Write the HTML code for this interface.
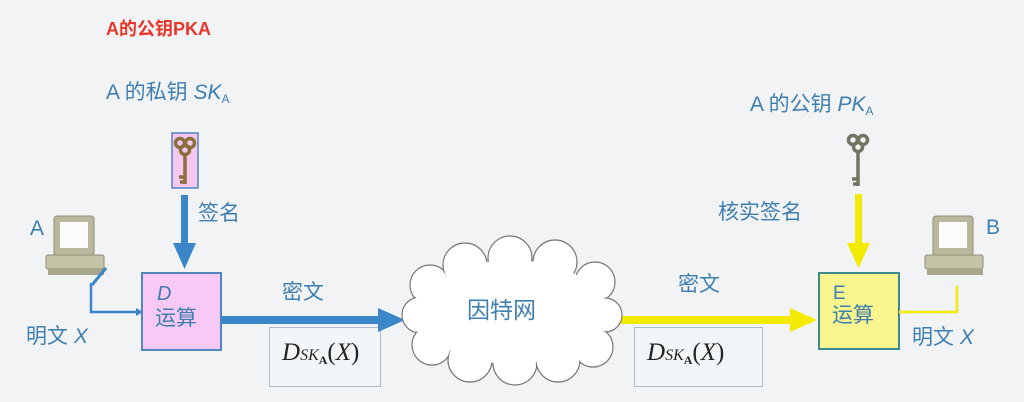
<!DOCTYPE html>
<html><head><meta charset="utf-8"><style>
body{margin:0;width:1024px;height:402px;background:#f2f3f5;overflow:hidden;position:relative;font-family:"Liberation Sans","Noto Sans CJK SC",sans-serif;}
.t{position:absolute;color:#3f7fb0;font-size:21px;white-space:nowrap;line-height:1;}
.i{font-style:italic;}
sub{font-size:12px;vertical-align:-4px;}
.box{position:absolute;border:1.5px solid #a9bccc;background:#f3f6f9;}
.m{font-family:"Liberation Serif",serif;font-style:italic;color:#222;font-size:25px;position:absolute;white-space:nowrap;}
</style></head><body>
<div class="t" style="left:106px;top:20px;color:#e8362b;font-weight:bold;font-size:18px">A的公钥PKA</div>
<div class="t" style="left:106px;top:82px">A 的私钥 <span class="i">SK</span><sub>A</sub></div>
<div class="t" style="left:750px;top:94px">A 的公钥 <span class="i">PK</span><sub>A</sub></div>
<div class="t" style="left:198px;top:203px">签名</div>
<div class="t" style="left:718px;top:202px">核实签名</div>
<div class="t" style="left:30px;top:218px">A</div>
<div class="t" style="left:986px;top:217px">B</div>
<div class="t" style="left:282px;top:282px">密文</div>
<div class="t" style="left:678px;top:274px">密文</div>
<div class="t" style="left:26px;top:326px">明文 <span class="i">X</span></div>
<div class="t" style="left:912px;top:327px">明文 <span class="i">X</span></div>
<div class="box" style="left:269px;top:327px;width:110px;height:58px"></div>
<div class="box" style="left:634px;top:327px;width:127px;height:58px"></div>
<div class="m" style="left:282px;top:339px">D<span style="font-size:16px">SK<sub style="font-style:normal;font-weight:bold;font-size:12px">A</sub></span><span style="font-style:normal">(</span>X<span style="font-style:normal">)</span></div>
<div class="m" style="left:647px;top:339px">D<span style="font-size:16px">SK<sub style="font-style:normal;font-weight:bold;font-size:12px">A</sub></span><span style="font-style:normal">(</span>X<span style="font-style:normal">)</span></div>
<svg width="1024" height="402" style="position:absolute;left:0;top:0">
<rect x="172" y="133" width="26" height="55" fill="#f6c8f0" stroke="#4f86c0" stroke-width="1.5"/>
<g fill="none" stroke="#8a6f3e" stroke-width="3.5"><circle cx="180" cy="143" r="4.5"/><circle cx="190" cy="143" r="4.5"/><circle cx="185" cy="150" r="4.5"/><path d="M185 154 V184 M185 177 h-6 M185 182 h-5"/></g>
<g fill="none" stroke="#6f7560" stroke-width="3.5"><circle cx="853" cy="140" r="4.5"/><circle cx="863" cy="140" r="4.5"/><circle cx="858" cy="147" r="4.5"/><path d="M858 151 V186 M858 179 h-6 M858 184 h-5"/></g>
<rect x="181" y="195" width="7" height="50" fill="#3b86c8"/>
<polygon points="173,243 196,243 184.5,269" fill="#3b86c8"/>
<rect x="855" y="194" width="7" height="52" fill="#f2ea00"/>
<polygon points="847,243 870,243 858.5,268" fill="#f2ea00"/>
<path d="M91 283 V312 H138" fill="none" stroke="#3b86c8" stroke-width="2.5"/>
<polygon points="136,308 143,312 136,316" fill="#3b86c8"/>
<rect x="142" y="273" width="79" height="77" fill="#f9c9f6" stroke="#4f86c0" stroke-width="2"/>
<text x="157" y="300" font-family="Liberation Sans" font-style="italic" font-size="20" fill="#3f7fb0">D</text>
<text x="155" y="325" font-family="Noto Sans CJK SC" font-size="21" fill="#3f7fb0">运算</text>
<rect x="221" y="316" width="160" height="8" fill="#3b86c8"/>
<polygon points="378,308 405,320 378,332" fill="#3b86c8"/>
<rect x="819" y="273" width="80" height="76" fill="#f8f58e" stroke="#3e8a8a" stroke-width="2"/>
<text x="833" y="299" font-family="Liberation Sans" font-size="19" fill="#3f7fb0">E</text>
<text x="832" y="322" font-family="Noto Sans CJK SC" font-size="21" fill="#3f7fb0">运算</text>
<rect x="614" y="316" width="180" height="8" fill="#f2ea00"/>
<polygon points="790,308 817,320 790,332" fill="#f2ea00"/>
<path d="M899 312 H957 V286" fill="none" stroke="#f2ea00" stroke-width="2.5"/>
<g>
<rect x="54" y="216" width="40" height="40" rx="3" fill="#b9b89c" stroke="#8f8e74"/>
<rect x="60" y="222" width="28" height="26" fill="#fbfbfb"/>
<rect x="46" y="255" width="58" height="14" rx="2" fill="#c5c4a8" stroke="#8f8e74"/>
<rect x="48" y="269" width="56" height="6" fill="#a8a78c"/>
<path d="M92 285 L106 268" stroke="#3b86c8" stroke-width="3"/>
</g>
<g>
<rect x="933" y="216" width="40" height="40" rx="3" fill="#b9b89c" stroke="#8f8e74"/>
<rect x="939" y="222" width="28" height="26" fill="#fbfbfb"/>
<rect x="925" y="255" width="58" height="14" rx="2" fill="#c5c4a8" stroke="#8f8e74"/>
<rect x="927" y="269" width="56" height="6" fill="#a8a78c"/>
</g>
<g stroke="#777" stroke-width="1.2" fill="#fff">
<circle cx="430" cy="285" r="20"/><circle cx="420" cy="315" r="18"/><circle cx="432" cy="345" r="20"/>
<circle cx="465" cy="265" r="22"/><circle cx="510" cy="258" r="22"/><circle cx="555" cy="262" r="22"/>
<circle cx="595" cy="282" r="20"/><circle cx="605" cy="315" r="17"/><circle cx="593" cy="347" r="20"/>
<circle cx="470" cy="360" r="22"/><circle cx="515" cy="363" r="22"/><circle cx="558" cy="360" r="22"/>
</g>
<ellipse cx="512" cy="312" rx="92" ry="52" fill="#fff"/>
<g fill="#fff"><circle cx="430" cy="285" r="18.8"/><circle cx="420" cy="315" r="16.8"/><circle cx="432" cy="345" r="18.8"/>
<circle cx="465" cy="265" r="20.8"/><circle cx="510" cy="258" r="20.8"/><circle cx="555" cy="262" r="20.8"/>
<circle cx="595" cy="282" r="18.8"/><circle cx="605" cy="315" r="15.8"/><circle cx="593" cy="347" r="18.8"/>
<circle cx="470" cy="360" r="20.8"/><circle cx="515" cy="363" r="20.8"/><circle cx="558" cy="360" r="20.8"/></g>
<text x="467" y="318" font-family="Noto Sans CJK SC" font-size="23" fill="#3f7fb0">因特网</text>
</svg>
</body></html>
